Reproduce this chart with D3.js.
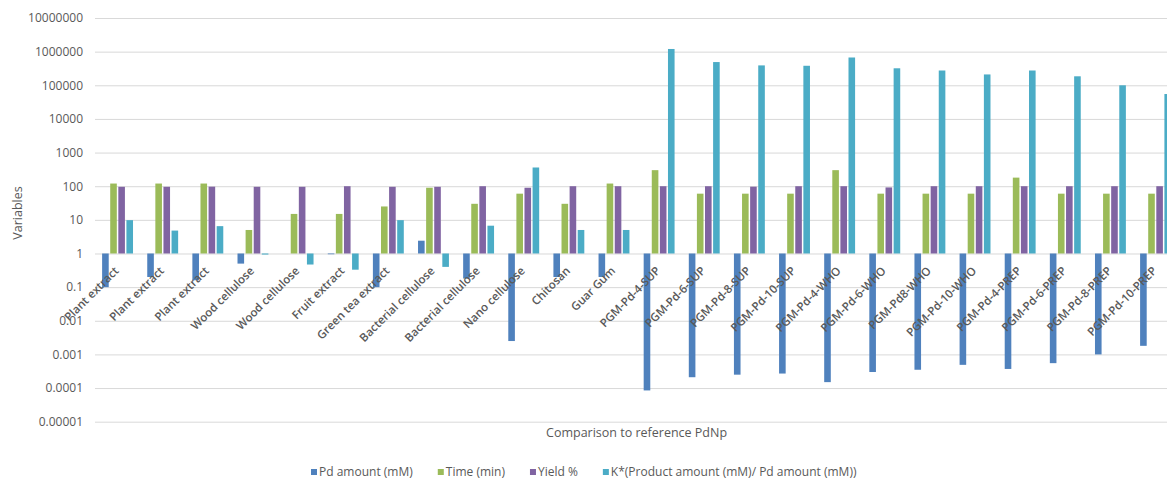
<!DOCTYPE html>
<html>
<head>
<meta charset="utf-8">
<script src="https://cdn.jsdelivr.net/npm/d3@7"></script>
<style>
  html, body { margin: 0; padding: 0; background: #fff; }
  svg { display: block; }
  text { font-family: "Open Sans", "Liberation Sans", sans-serif; fill: #595959; }
</style>
</head>
<body>
<svg id="chart" width="1167" height="479"></svg>
<script>
// ---- data ----
const categories = [
  "Plant extract", "Plant extract", "Plant extract", "Wood cellulose", "Wood cellulose",
  "Fruit extract", "Green tea extract", "Bacterial cellulose", "Bacterial cellulose",
  "Nano cellulose", "Chitosan", "Guar Gum",
  "PGM-Pd-4-SUP", "PGM-Pd-6-SUP", "PGM-Pd-8-SUP", "PGM-Pd-10-SUP",
  "PGM-Pd-4-WHO", "PGM-Pd-6-WHO", "PGM-Pd8-WHO", "PGM-Pd-10-WHO",
  "PGM-Pd-4-PREP", "PGM-Pd-6-PREP", "PGM-Pd-8-PREP", "PGM-Pd-10-PREP"
];
const seriesNames = ["Pd amount (mM)", "Time (min)", "Yield %", "K*(Product amount (mM)/ Pd amount (mM))"];
const pdAmount = [0.1, 0.2, 0.16, 0.5, 1, 0.95, 0.1, 2.4, 0.18, 0.0025, 0.2, 0.2,
  0.000085, 0.00021, 0.00025, 0.00027, 0.00015, 0.0003, 0.00035, 0.00049, 0.00037, 0.00055, 0.001, 0.0018];
const timeMin = [120, 120, 120, 5, 15, 15, 25, 90, 30, 60, 30, 120,
  300, 60, 60, 60, 300, 60, 60, 60, 180, 60, 60, 60];
const yieldPct = [96, 96, 97, 96, 96, 100, 96, 96, 100, 90, 100, 100,
  100, 100, 97, 100, 100, 92, 100, 100, 100, 100, 100, 100];
const kRatio = [9.8, 4.8, 6.5, 0.93, 0.47, 0.33, 9.8, 0.4, 6.7, 360, 5, 5,
  1200000, 490000, 390000, 380000, 670000, 320000, 275000, 210000, 275000, 185000, 100000, 55000];
const yTickValues = [1e-5, 1e-4, 1e-3, 1e-2, 1e-1, 1, 10, 100, 1000, 10000, 100000, 1000000, 10000000];
const yTickLabels = ["0.00001", "0.0001", "0.001", "0.01", "0.1", "1", "10", "100", "1000", "10000", "100000", "1000000", "10000000"];
const colors = ["#4F81BD", "#9BBB59", "#8064A2", "#4BACC6"];
const xTitle = "Comparison to reference PdNp";
const yTitle = "Variables";

// ---- layout ----
const svg = d3.select("#chart");
const plotLeft = 95, bandW = 45.13;
const plotRight = plotLeft + bandW * categories.length;
const plotTop = 18, plotBottom = 421.7;

const x = d3.scaleBand().domain(d3.range(categories.length)).range([plotLeft, plotRight]).padding(0);
const y = d3.scaleLog().domain([1e-5, 1e7]).range([plotBottom, plotTop]);
const barStep = 8.1, barW = 6.6;
const groupOffset = (x.bandwidth() - barStep * 4) / 2;

// gridlines
svg.append("g")
  .attr("transform", `translate(${plotLeft},0)`)
  .call(d3.axisLeft(y).tickValues(yTickValues).tickSize(-(plotRight - plotLeft)).tickFormat(""))
  .call(g => g.select(".domain").remove())
  .call(g => g.selectAll("line").attr("stroke", "#D9D9D9").attr("stroke-width", 1));

// y axis labels
svg.append("g")
  .attr("transform", `translate(${plotLeft},0)`)
  .call(d3.axisLeft(y).tickValues(yTickValues).tickSize(0).tickPadding(12)
    .tickFormat((d, i) => yTickLabels[i]))
  .call(g => g.select(".domain").remove())
  .call(g => g.selectAll("text").style("font-size", "12px").attr("fill", "#595959"));

// bars
const seriesData = [pdAmount, timeMin, yieldPct, kRatio];
const y1 = y(1);
seriesData.forEach((vals, s) => {
  svg.append("g").selectAll("rect")
    .data(vals)
    .join("rect")
    .attr("x", (d, i) => x(i) + groupOffset + s * barStep + (barStep - barW) / 2)
    .attr("width", barW)
    .attr("y", d => Math.min(y(d), y1))
    .attr("height", d => Math.abs(y(d) - y1))
    .attr("fill", colors[s]);
});

// x axis (category labels)
svg.append("g")
  .attr("transform", `translate(0,${y1})`)
  .call(d3.axisBottom(x).tickSize(0).tickFormat(i => categories[i]))
  .call(g => g.select(".domain").remove())
  .call(g => g.selectAll("text")
    .attr("x", 2).attr("y", 18).attr("dy", 0)
    .attr("transform", "rotate(-45, 2, 18)")
    .attr("text-anchor", "end")
    .style("font-size", "11.5px").style("font-weight", 600)
    .attr("fill", "#595959"));

// axis titles
svg.append("text")
  .attr("x", (plotLeft + plotRight) / 2).attr("y", 437)
  .attr("text-anchor", "middle").style("font-size", "12.5px")
  .text(xTitle);
svg.append("text")
  .attr("transform", "translate(22,213) rotate(-90)")
  .attr("text-anchor", "middle").style("font-size", "12.5px")
  .text(yTitle);

// legend
const legend = svg.append("g").attr("transform", "translate(311,472)");
let lx = 0;
seriesNames.forEach((name, s) => {
  const item = legend.append("g").attr("transform", `translate(${lx},0)`);
  item.append("rect").attr("x", 0).attr("y", -3).attr("width", 6).attr("height", 6).attr("fill", colors[s]);
  const t = item.append("text").attr("x", 8).attr("y", 0).attr("dy", "0.35em")
    .style("font-size", "12px").text(name);
  lx += 8 + t.node().getComputedTextLength() + 25;
});
</script>
</body>
</html>
